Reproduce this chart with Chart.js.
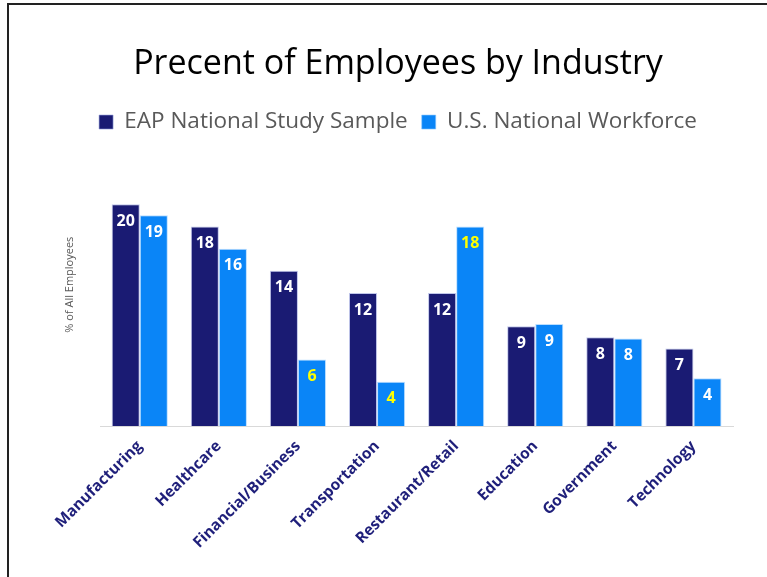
<!DOCTYPE html>
<html>
<head>
<meta charset="utf-8">
<script src="https://cdn.jsdelivr.net/npm/chart.js@4.4.0/dist/chart.umd.min.js"></script>
<style>
  html, body { margin: 0; padding: 0; background: #fff; }
  #wrap { position: relative; width: 767px; height: 577px; overflow: hidden; }
  #frame { position: absolute; left: 7px; top: 3px; right: -5px; bottom: -5px;
           border-top: 2px solid #222; border-left: 2px solid #222; pointer-events: none; }
</style>
</head>
<body>
<div id="wrap">
  <canvas id="chart" width="767" height="577"></canvas>
  <div id="frame"></div>
</div>
<script>
var industries = ['Manufacturing', 'Healthcare', 'Financial/Business', 'Transportation',
                  'Restaurant/Retail', 'Education', 'Government', 'Technology'];
var eapSample  = [20, 18, 14, 12, 12, 9, 8, 7];
var usWorkforce = [19, 16, 6, 4, 18, 9.2, 7.9, 4.3];
var seriesNames = ['EAP National Study Sample', 'U.S. National Workforce'];
var yMax = 25.5;

// which workforce labels are shown in yellow
var yellowLabels = [2, 3, 4];

var navy = '#1a1b73';
var blue = '#0a85f7';

var barLabels = {
    id: 'barLabels',
    afterDatasetsDraw: function(chart) {
        var ctx = chart.ctx;
        ctx.save();
        ctx.font = 'bold 16px "Open Sans"';
        ctx.textAlign = 'center';
        ctx.textBaseline = 'middle';
        chart.data.datasets.forEach(function(ds, di) {
            var meta = chart.getDatasetMeta(di);
            meta.data.forEach(function(bar, i) {
                var v = Math.round(ds.data[i]);
                ctx.fillStyle = (di == 1 && yellowLabels.indexOf(i) >= 0) ? '#ffff00' : '#ffffff';
                ctx.fillText(v, bar.x, bar.y + 17);
            });
        });
        ctx.restore();
    }
};

new Chart(document.getElementById('chart').getContext('2d'), {
    type: 'bar',
    data: {
        labels: industries,
        datasets: [{
            label: seriesNames[0],
            data: eapSample,
            backgroundColor: navy,
            borderColor: 'rgba(150,160,220,0.6)',
            borderWidth: 1
        }, {
            label: seriesNames[1],
            data: usWorkforce,
            backgroundColor: blue,
            borderColor: 'rgba(140,200,255,0.6)',
            borderWidth: 1
        }]
    },
    options: {
        responsive: false,
        animation: false,
        layout: { padding: { left: 63, right: 34, top: 0, bottom: 22 } },
        datasets: { bar: { categoryPercentage: 0.71, barPercentage: 1 } },
        plugins: {
            title: {
                display: true,
                text: 'Precent of Employees by Industry',
                color: '#000',
                font: { family: 'Open Sans', size: 34, weight: 'normal' },
                padding: { top: 44, bottom: 12 }
            },
            legend: {
                labels: {
                    boxWidth: 14,
                    boxHeight: 14,
                    color: '#595959',
                    padding: 14,
                    font: { family: 'Open Sans', size: 22.5 }
                }
            },
            tooltip: { enabled: false }
        },
        scales: {
            x: {
                grid: { display: false },
                border: { display: true, color: '#d9d9d9' },
                ticks: {
                    color: '#1f1f7a',
                    maxRotation: 45,
                    minRotation: 45,
                    font: { family: 'Open Sans', size: 15.5, weight: 'bold' }
                }
            },
            y: {
                min: 0,
                max: yMax,
                grid: { display: false },
                border: { display: false },
                ticks: { display: false },
                title: {
                    display: true,
                    text: '% of All Employees',
                    color: '#595959',
                    font: { family: 'Open Sans', size: 11 },
                    padding: { top: 0, bottom: 16 }
                }
            }
        }
    },
    plugins: [barLabels]
});
</script>
</body>
</html>
